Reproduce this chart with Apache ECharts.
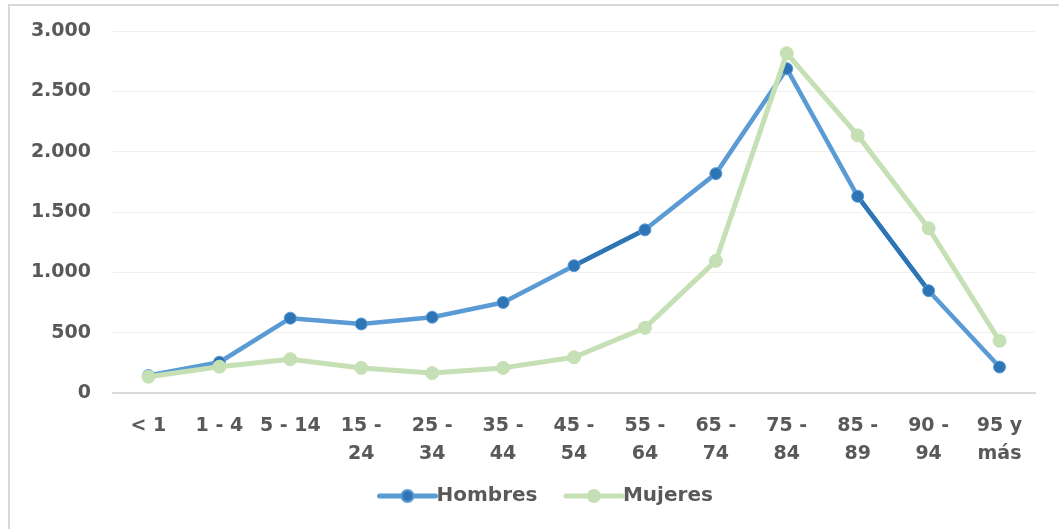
<!DOCTYPE html>
<html>
<head>
<meta charset="utf-8">
<script src="https://cdn.jsdelivr.net/npm/echarts@6/dist/echarts.min.js"></script>
<style>
  html, body { margin: 0; padding: 0; background: #ffffff; }
  #chart { width: 1059px; height: 529px; }
</style>
</head>
<body>
<div id="chart"></div>
<script>
// Grupos de edad
const categories = ['< 1', '1 - 4', '5 - 14', '15 - 24', '25 - 34', '35 - 44', '45 - 54',
                    '55 - 64', '65 - 74', '75 - 84', '85 - 89', '90 - 94', '95 y más'];
// Defunciones por sexo
const hombres = [145, 255, 620, 572, 628, 750, 1055, 1352, 1818, 2688, 1630, 848, 215];
const mujeres = [135, 218, 280, 208, 165, 208, 296, 540, 1095, 2815, 2135, 1365, 432];
// Tramos de la serie de hombres dibujados en tono oscuro (índice del punto inicial)
const tramosOscuros = [6, 10];

const AZUL = '#5b9bd5';
const AZUL_OSCURO = '#2e75b6';
const VERDE = '#c5e0b4';
const TEXTO = '#595959';
const FUENTE = '"DejaVu Sans", sans-serif';

function miles(v) {
  return String(v).replace(/\B(?=(\d{3})+(?!\d))/g, '.');
}

// Serie auxiliar con un solo tramo (punto i a i+1) de un array
function tramo(arr, i) {
  return arr.map((v, k) => (k === i || k === i + 1) ? v : null);
}

const chart = echarts.init(document.getElementById('chart'));

const tramoSeries = tramosOscuros.map(i => ({
  type: 'line',
  name: 'tramo' + i,
  data: tramo(hombres, i),
  showSymbol: false,
  symbol: 'none',
  silent: true,
  z: 2,
  connectNulls: false,
  lineStyle: { color: AZUL_OSCURO, width: 4.5, cap: 'round' },
  emphasis: { disabled: true }
}));

chart.setOption({
  backgroundColor: '#ffffff',
  animation: false,
  graphic: [{
    type: 'rect',
    shape: { x: 9, y: 5, width: 1200, height: 800 },
    style: { fill: 'none', stroke: '#d9d9d9', lineWidth: 2 },
    silent: true
  }],
  grid: { left: 113, right: 24, top: 31, bottom: 136 },
  legend: {
    data: ['Hombres', 'Mujeres'],
    left: 372,
    top: 481,
    itemWidth: 56,
    itemHeight: 15,
    itemGap: 26,
    lineStyle: { width: 5, cap: 'round' },
    textStyle: { color: TEXTO, fontFamily: FUENTE, fontWeight: 'bold', fontSize: 20, padding: [0, 0, 0, -4] }
  },
  xAxis: {
    type: 'category',
    data: categories,
    boundaryGap: true,
    axisLine: { lineStyle: { color: '#d9d9d9', width: 2 } },
    axisTick: { show: false },
    axisLabel: {
      interval: 0,
      margin: 19,
      color: TEXTO,
      fontFamily: FUENTE,
      fontWeight: 'bold',
      fontSize: 19,
      lineHeight: 28,
      formatter: v => v.length > 6 ? v.replace(/ (\S+)$/, '\n$1') : v
    }
  },
  yAxis: {
    type: 'value',
    min: 0,
    max: 3000,
    interval: 500,
    axisLine: { show: false },
    axisTick: { show: false },
    splitLine: { lineStyle: { color: '#f0f0f0', width: 1 } },
    axisLabel: {
      margin: 22,
      color: TEXTO,
      fontFamily: FUENTE,
      fontWeight: 'bold',
      fontSize: 19,
      formatter: miles
    }
  },
  series: [
    {
      type: 'line',
      name: 'Hombres',
      data: hombres,
      z: 2,
      symbol: 'circle',
      symbolSize: 12,
      lineStyle: { color: AZUL, width: 4.5 },
      itemStyle: { color: AZUL_OSCURO, borderColor: AZUL, borderWidth: 1 }
    },
    ...tramoSeries,
    {
      type: 'line',
      name: 'Mujeres',
      data: mujeres,
      z: 3,
      symbol: 'circle',
      symbolSize: 13,
      lineStyle: { color: VERDE, width: 5 },
      itemStyle: { color: VERDE, borderColor: VERDE, borderWidth: 1 }
    }
  ]
});
</script>
</body>
</html>
